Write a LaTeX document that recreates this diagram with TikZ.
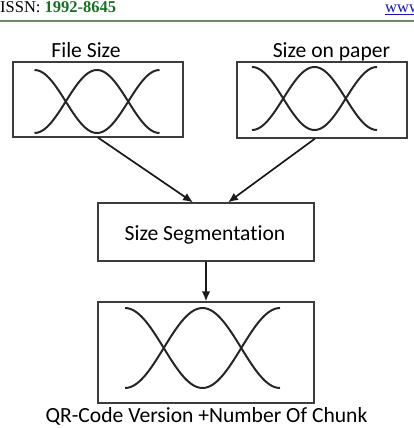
\documentclass[tikz,border=0pt]{standalone}
\usepackage{fontspec}
\setmainfont{Carlito}[Ligatures={NoCommon,NoContextual}]
\newfontfamily\serifhead{Liberation Serif}
\usepackage{xcolor}
\definecolor{qrgreen}{RGB}{22,112,34}
\definecolor{qrrule}{RGB}{112,138,104}
\definecolor{qrlink}{RGB}{20,20,190}
\definecolor{qrline}{RGB}{60,60,60}
\usetikzlibrary{positioning,arrows.meta}

% two crossing cosine waves: centre x, centre y, width, amplitude
\newcommand\crosswave[4]{%
  \draw[wave] plot[domain=0:360,samples=73,smooth] ({#1+#3*(\x/360-0.5)},{#2-#4*cos(\x)});
  \draw[wave] plot[domain=0:360,samples=73,smooth] ({#1+#3*(\x/360-0.5)},{#2+#4*cos(\x)});
}

\begin{document}
\begin{tikzpicture}[
  x=1pt,y=-1pt,
  font=\fontsize{21.6}{24}\selectfont,
  >={Latex[length=10pt,width=8.5pt]},
  box/.style={draw=qrline,line width=1.2pt,inner sep=0pt},
  wave/.style={line width=2pt,black!85},
  lbl/.style={inner sep=0pt,anchor=base},
  ar/.style={->,line width=1.7pt,black!90},
]
\useasboundingbox (0,0) rectangle (414,428);

% page header
\node[lbl,anchor=base west,font=\serifhead\fontsize{16.5}{18}\selectfont] (issn) at (0,12.5)
  {ISSN: \textcolor{qrgreen}{\textbf{1992-8645}}};
\node[lbl,anchor=base west,font=\serifhead\fontsize{16.5}{18}\selectfont,text=qrlink] (www) at (385,12.5)
  {\underline{www}};
\coordinate (rl) at (0,21);
\coordinate (rr) at (414,21);
\draw[qrrule,line width=1.4pt] (rl) -- (rr);

\node[box,minimum width=170pt,minimum height=75pt] (fsize) at (98,99.5) {};
\node[box,minimum width=170pt,minimum height=76pt] (psize) at (322,100) {};
\node[box,minimum width=216pt,minimum height=58pt] (seg) at (206,232) {};
\node[box,minimum width=216pt,minimum height=101pt] (qr) at (206,352.5) {};

\node[lbl] (fsizel) at (86,58) {File Size};
\node[lbl] (psizel) at (331.5,57) {Size on paper};
\node[lbl] (segl) at (205,240) {Size Segmentation};
\node[lbl] (qrl) at (206.5,422) {QR-Code Version +Number Of Chunk};

\crosswave{97}{101.5}{125}{31.5}
\crosswave{314.5}{98.5}{125}{31.5}
\crosswave{202.5}{348}{155}{40}

\draw[ar] (fsize.south) -- ([xshift=-13pt]seg.north);
\draw[ar] ([xshift=-7pt]psize.south) -- ([xshift=22pt]seg.north);
\draw[ar] (seg.south) -- (qr.north);
\end{tikzpicture}
\end{document}
